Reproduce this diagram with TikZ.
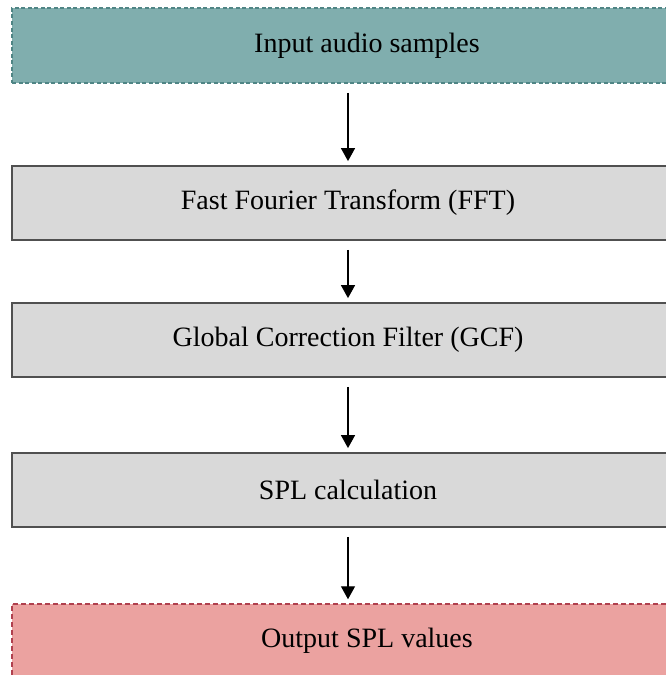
\documentclass[tikz,border=0pt]{standalone}
\usepackage{fontspec}
\setmainfont{Liberation Serif}
\usetikzlibrary{arrows.meta,positioning}
\definecolor{inteal}{HTML}{80AEAE}
\definecolor{intealdk}{HTML}{4F8585}
\definecolor{outpink}{HTML}{EBA2A0}
\definecolor{outpinkdk}{HTML}{B0404E}
\definecolor{stepgray}{HTML}{D9D9D9}
\definecolor{stepdk}{HTML}{505050}
\begin{document}
\begin{tikzpicture}[
  x=1pt,y=-1pt,
  font=\fontsize{28}{32}\selectfont,
  >={Triangle[length=13pt,width=14pt]},
  stage/.style={draw=stepdk,line width=1.8pt,fill=stepgray,align=center,
                minimum width=672pt,minimum height=74pt,inner sep=0pt},
  inbox/.style={draw=intealdk,line width=1.5pt,dash pattern=on 4pt off 2.5pt,fill=inteal,
                align=center,minimum width=710pt,minimum height=75pt,inner sep=0pt},
  outbox/.style={draw=outpinkdk,line width=1.5pt,dash pattern=on 5pt off 3pt,fill=outpink,
                 align=center,minimum width=710pt,minimum height=74pt,inner sep=0pt},
  arr/.style={->,line width=1.4pt,shorten <=9pt,shorten >=4pt},
]
\useasboundingbox (0,0) rectangle (666,675);
% ---- source and sink ----
\node[inbox] (IN) at (367,45.5) {Input audio samples};
\node[outbox] (OUT) at (367,641) {Output SPL values};
% ---- processing chain ----
\node[stage] (FFT) at (348,203) {Fast Fourier Transform (FFT)};
\node[stage] (GCF) at (348,340) {Global Correction Filter (GCF)};
\node[stage] (SPL) at (348,490) {SPL calculation};
\draw[arr] (IN.south -| FFT) -- (FFT.north);
\draw[arr] (FFT) -- (GCF);
\draw[arr] (GCF) -- (SPL);
\draw[arr] (SPL.south) -- (OUT.north -| SPL);
\end{tikzpicture}
\end{document}
